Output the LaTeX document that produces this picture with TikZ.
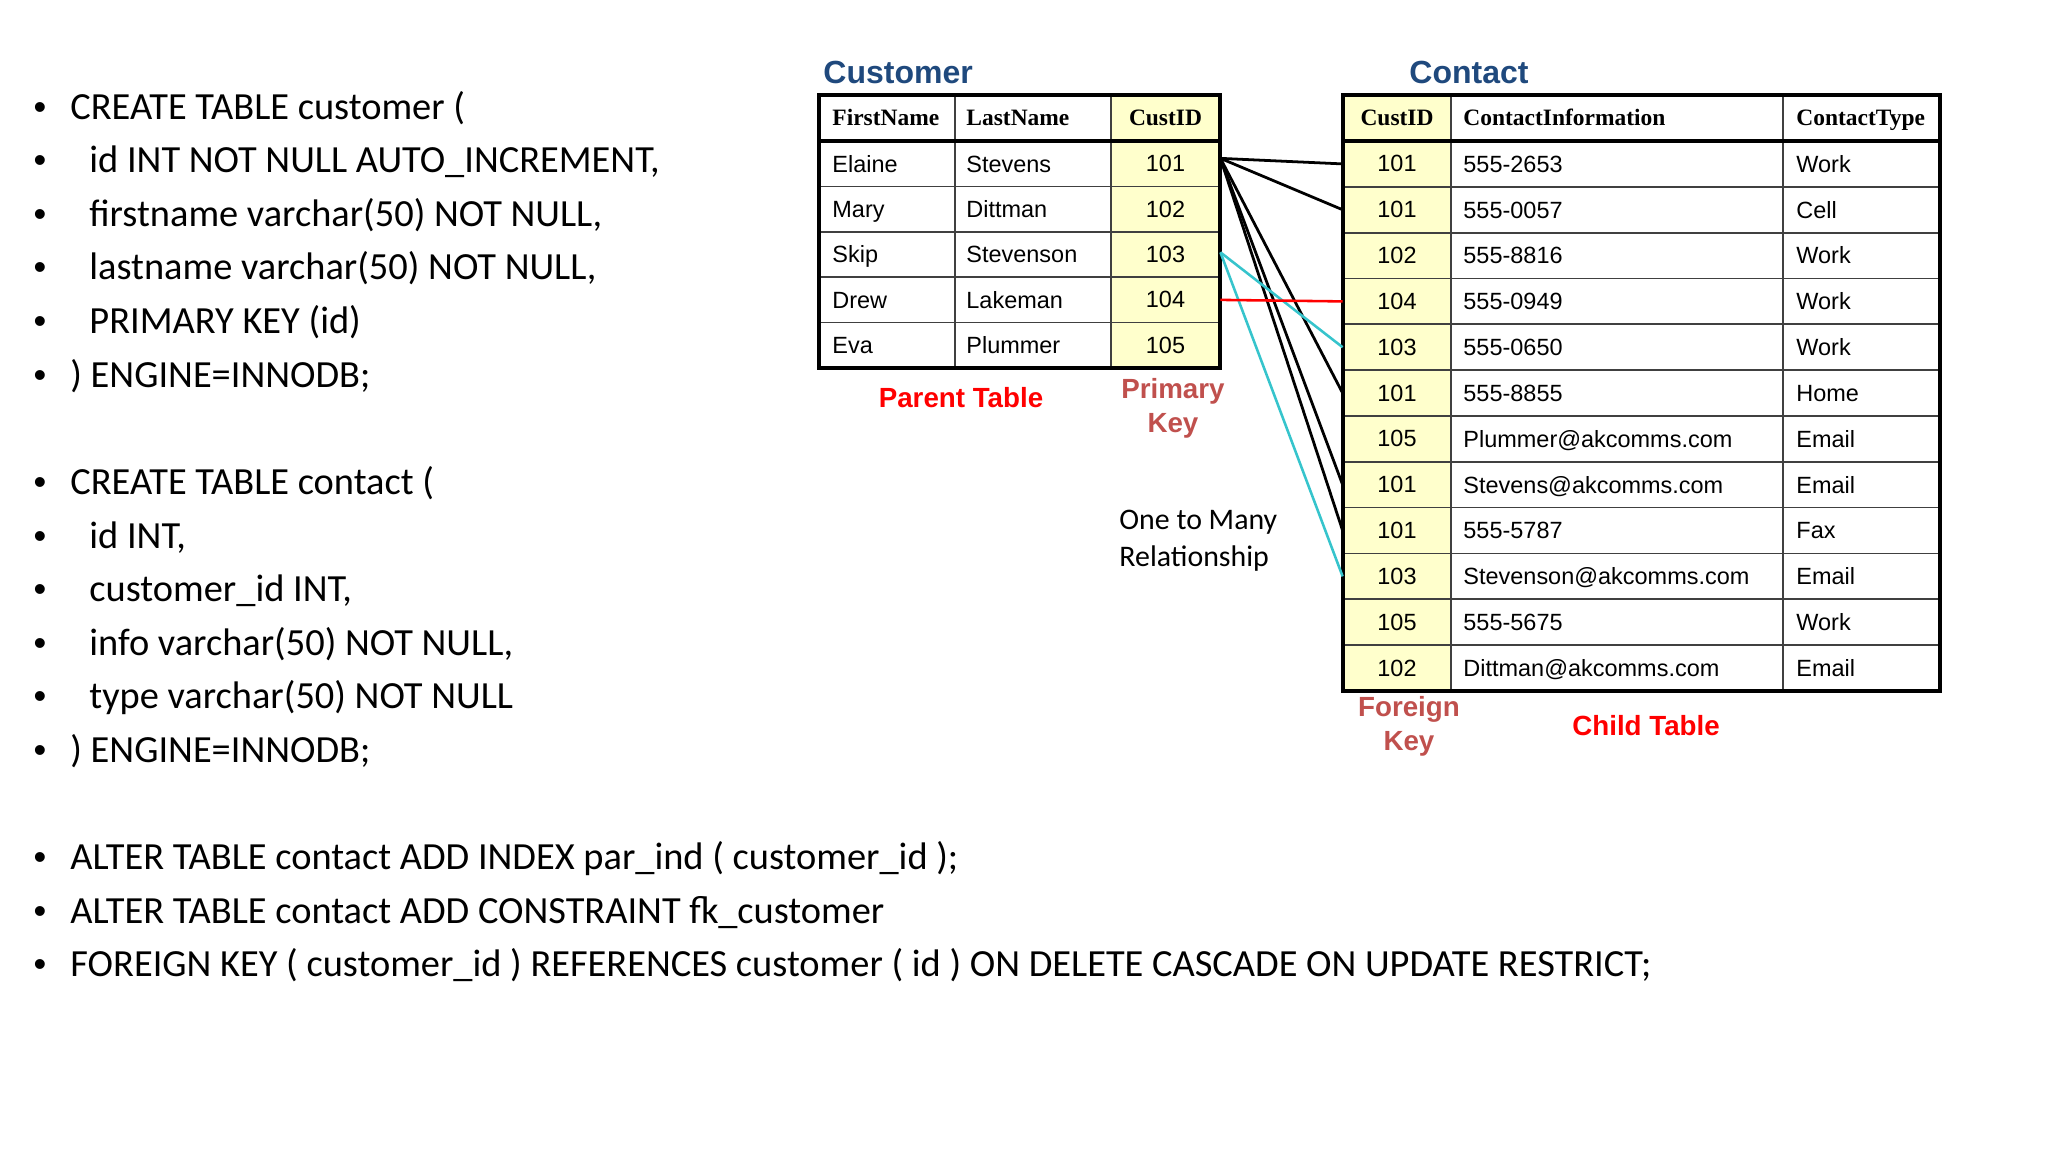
\documentclass[tikz,border=0pt]{standalone}
\usepackage{fontspec}
\setmainfont{Carlito}
\newfontfamily\arialfont{Liberation Sans}
\newfontfamily\timesfont{Liberation Serif}
\usetikzlibrary{positioning}

\definecolor{titleblue}{RGB}{31,73,125}
\definecolor{keyyellow}{RGB}{255,255,204}
\definecolor{keyred}{RGB}{192,80,77}
\definecolor{linkcyan}{RGB}{54,196,204}
\definecolor{gridgray}{RGB}{64,64,64}

\begin{document}
\begin{tikzpicture}[
    x=0.46875pt, y=-0.46875pt,
    sqlline/.style={anchor=base west, inner sep=0, font=\fontsize{18}{22}\selectfont},
    bulletdot/.style={anchor=base, inner sep=0, font=\arialfont\fontsize{17}{20}\selectfont},
    cell/.style={anchor=base west, inner sep=0, font=\arialfont\fontsize{11}{13}\selectfont},
    headcell/.style={anchor=base west, inner sep=0, font=\timesfont\bfseries\fontsize{11}{13}\selectfont},
    keycell/.style={fill=keyyellow, inner sep=0, minimum height=21.4pt,
        font=\arialfont\fontsize{11}{13}\selectfont},
    keyhead/.style={keycell, font=\timesfont\bfseries\fontsize{11}{13}\selectfont},
    tabletitle/.style={anchor=base west, inner sep=0, text=titleblue,
        font=\arialfont\bfseries\fontsize{15}{18}\selectfont},
    tabletag/.style={inner sep=0, align=center,
        font=\arialfont\bfseries\fontsize{13}{16}\selectfont},
    gridline/.style={draw=gridgray, line width=0.8pt},
    tableframe/.style={draw=black, line width=1.6pt},
    link/.style={line width=1.3pt}
]
\useasboundingbox (0,0) rectangle (2048,1152);

% SQL statements on the left
\foreach \n/\y/\x/\txt in {
    1/119.5/70/{CREATE TABLE customer (},
    2/173/89/{id INT NOT NULL AUTO\_INCREMENT,},
    3/226.5/89/{firstname varchar(50) NOT NULL,},
    4/280/89/{lastname varchar(50) NOT NULL,},
    5/333.5/89/{PRIMARY KEY (id)},
    6/387/70/{) ENGINE=INNODB;},
    7/494.5/70/{CREATE TABLE contact (},
    8/548/89/{id INT,},
    9/601.5/89/{customer\_id INT,},
    10/655/89/{info varchar(50) NOT NULL,},
    11/708.5/89/{type varchar(50) NOT NULL},
    12/762/70/{) ENGINE=INNODB;},
    13/869.5/70/{ALTER TABLE contact ADD INDEX par\_ind ( customer\_id );},
    14/923/70/{ALTER TABLE contact ADD CONSTRAINT fk\_customer},
    15/976.5/70/{FOREIGN KEY ( customer\_id ) REFERENCES customer ( id ) ON DELETE CASCADE ON UPDATE RESTRICT;}} {
  \node[bulletdot] (dot\n) at (40,\y) {\textbullet};
  \node[sqlline] (sql\n) at (\x,\y) {\txt};
}

% parent table
\node[tabletitle] (custtitle) at (823,83.5) {Customer};
\node[headcell] (hfirst) at (832,125.8) {FirstName};
\node[headcell] (hlast) at (966,125.8) {LastName};
\node[keyhead, minimum width=51.1pt, minimum height=21.6pt] (cu0) at (1165.5,118) {CustID};
\foreach \i/\first/\last/\id in {1/Elaine/Stevens/101, 2/Mary/Dittman/102,
    3/Skip/Stevenson/103, 4/Drew/Lakeman/104, 5/Eva/Plummer/105} {
  \node[cell] (first\i) at (832,{141+45.4*(\i-0.5)+8.4}) {\first};
  \node[cell] (last\i) at (966,{141+45.4*(\i-0.5)+8.4}) {\last};
  \node[keycell, minimum width=51.1pt] (cu\i) at (1165.5,{141+45.4*(\i-0.5)}) {\id};
}
\foreach \i in {1,...,4}
  \draw[gridline] (819,{141+45.4*\i}) -- (1220,{141+45.4*\i});
\draw[gridline] (955,95) -- (955,368) (1111,95) -- (1111,368);
\draw[tableframe] (819,95) rectangle (1220,368) (819,141) -- (1220,141);

% child table
\node[tabletitle] (conttitle) at (1409,83.5) {Contact};
\node[keyhead, minimum width=50.6pt, minimum height=21.6pt] (ct0) at (1397,118) {CustID};
\node[headcell] (hinfo) at (1463,125.8) {ContactInformation};
\node[headcell] (htype) at (1796,125.8) {ContactType};
\foreach \i/\id/\info/\kind in {1/101/555-2653/Work, 2/101/555-0057/Cell,
    3/102/555-8816/Work, 4/104/555-0949/Work, 5/103/555-0650/Work,
    6/101/555-8855/Home, 7/105/Plummer@akcomms.com/Email,
    8/101/Stevens@akcomms.com/Email, 9/101/555-5787/Fax,
    10/103/Stevenson@akcomms.com/Email, 11/105/555-5675/Work,
    12/102/Dittman@akcomms.com/Email} {
  \node[keycell, minimum width=50.6pt] (ct\i) at (1397,{141+45.83*(\i-0.5)}) {\id};
  \node[cell] (info\i) at (1463,{141+45.83*(\i-0.5)+8.4}) {\info};
  \node[cell] (kind\i) at (1796,{141+45.83*(\i-0.5)+8.4}) {\kind};
}
\foreach \i in {1,...,11}
  \draw[gridline] (1343,{141+45.83*\i}) -- (1940,{141+45.83*\i});
\draw[gridline] (1451,95) -- (1451,691) (1783,95) -- (1783,691);
\draw[tableframe] (1343,95) rectangle (1940,691) (1343,141) -- (1940,141);

% links between the keys
\foreach \k in {1,2,6,8,9}
  \draw[link] ([yshift=2.5pt]cu1.east) -- (ct\k.west);
\foreach \k in {5,10}
  \draw[link, linkcyan, line width=1.2pt] ([yshift=1pt]cu3.east) -- (ct\k.west);
\draw[link, red, line width=1.2pt] (cu4.east) -- (ct4.west);

% labels
\node[tabletag, text=red] (parent) at (961,398) {Parent Table};
\node[tabletag, text=keyred, below=4.2pt of cu5, xshift=3.5pt] (pkey) {Primary\\Key};
\node[tabletag, text=keyred, below=2pt of ct12, xshift=5.6pt] (fkey) {Foreign\\Key};
\node[tabletag, text=red] (child) at (1646,726) {Child Table};
\node[anchor=west, inner sep=0, align=left, font=\fontsize{14}{17.3}\selectfont]
    (onemany) at (1119,540.5) {One to Many\\Relationship};

\end{tikzpicture}
\end{document}
